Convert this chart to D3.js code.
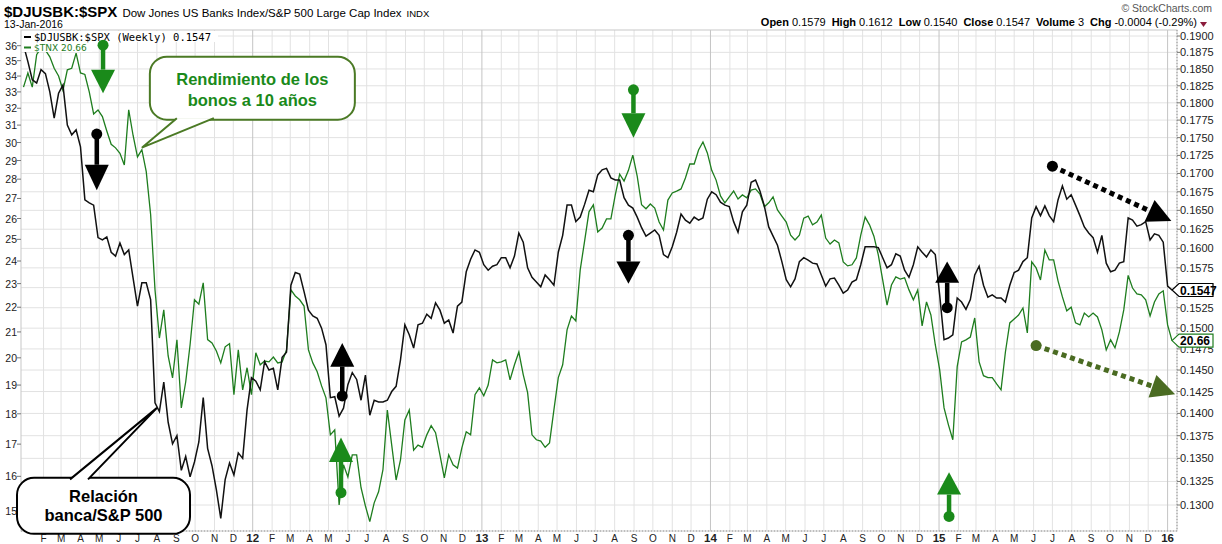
<!DOCTYPE html>
<html>
<head>
<meta charset="utf-8">
<script src="https://cdn.jsdelivr.net/npm/d3@7"></script>
<style>
body { margin: 0; background: #fff; }
text { font-family: "Liberation Sans", Arial, sans-serif; }
</style>
</head>
<body>
<script>
// weekly closes, first bar on 31-Dec-2010
var startDate = "2010-12-31";

// $DJUSBK:$SPX (right axis)
var ratio = [
  0.1886,0.1861,0.1834,0.1829,0.1849,0.1843,0.1816,0.1778,0.1814,0.1826,
  0.1768,0.1754,0.1761,0.1737,0.1664,0.1660,0.1657,0.1614,0.1611,0.1615,
  0.1595,0.1590,0.1607,0.1592,0.1598,0.1562,0.1527,0.1556,0.1556,0.1535,
  0.1412,0.1402,0.1436,0.1390,0.1366,0.1375,0.1337,0.1352,0.1330,0.1346,
  0.1368,0.1418,0.1361,0.1342,0.1316,0.1286,0.1327,0.1345,0.1332,0.1356,
  0.1350,0.1404,0.1441,0.1437,0.1427,0.1460,0.1450,0.1452,0.1427,0.1465,
  0.1471,0.1553,0.1569,0.1567,0.1545,0.1522,0.1515,0.1512,0.1500,0.1480,
  0.1418,0.1419,0.1397,0.1406,0.1433,0.1447,0.1439,0.1415,0.1444,0.1398,
  0.1415,0.1413,0.1413,0.1415,0.1425,0.1431,0.1462,0.1504,0.1492,0.1476,
  0.1504,0.1506,0.1517,0.1512,0.1531,0.1522,0.1506,0.1510,0.1494,0.1527,
  0.1532,0.1570,0.1586,0.1598,0.1595,0.1579,0.1572,0.1577,0.1579,0.1588,
  0.1588,0.1575,0.1590,0.1620,0.1608,0.1575,0.1563,0.1557,0.1551,0.1566,
  0.1560,0.1553,0.1595,0.1617,0.1657,0.1657,0.1635,0.1641,0.1658,0.1677,
  0.1675,0.1698,0.1705,0.1707,0.1694,0.1691,0.1691,0.1667,0.1657,0.1653,
  0.1641,0.1627,0.1616,0.1620,0.1624,0.1617,0.1592,0.1588,0.1602,0.1621,
  0.1645,0.1637,0.1633,0.1641,0.1637,0.1640,0.1665,0.1675,0.1671,0.1661,
  0.1657,0.1655,0.1635,0.1621,0.1648,0.1657,0.1688,0.1691,0.1676,0.1656,
  0.1628,0.1616,0.1604,0.1583,0.1560,0.1551,0.1561,0.1583,0.1588,0.1585,
  0.1581,0.1580,0.1566,0.1552,0.1561,0.1562,0.1553,0.1543,0.1547,0.1557,
  0.1560,0.1579,0.1602,0.1602,0.1602,0.1601,0.1588,0.1575,0.1579,0.1593,
  0.1590,0.1572,0.1563,0.1579,0.1602,0.1595,0.1589,0.1598,0.1592,0.1541,
  0.1486,0.1488,0.1492,0.1537,0.1532,0.1523,0.1535,0.1566,0.1577,0.1553,
  0.1538,0.1541,0.1537,0.1537,0.1532,0.1553,0.1569,0.1572,0.1583,0.1588,
  0.1640,0.1655,0.1643,0.1656,0.1643,0.1635,0.1664,0.1683,0.1665,0.1671,
  0.1657,0.1643,0.1628,0.1620,0.1614,0.1595,0.1617,0.1581,0.1570,0.1572,
  0.1581,0.1583,0.1640,0.1637,0.1629,0.1631,0.1635,0.1611,0.1619,0.1617,
  0.1608,0.1552,0.1547
];

// $TNX (left axis)
var tnx = [
  33.3,34.2,33.3,35.4,35.85,35.7,35.25,34.5,34.0,33.1,
  34.4,34.5,35.5,34.2,34.1,33.0,31.66,31.9,31.5,30.66,
  29.9,29.7,29.4,28.76,31.9,30.4,29.2,29.6,28.4,26.2,
  22.73,20.76,21.89,20.07,19.26,20.69,18.2,19.11,20.5,22.31,
  22.13,23.03,20.7,20.57,20.26,19.81,20.42,20.54,18.66,20.3,
  18.83,19.63,18.66,20.19,19.74,19.88,19.85,20.03,19.81,19.85,
  20.3,22.73,22.47,22.31,22.05,20.3,19.81,19.48,18.97,18.55,
  17.3,17.46,15.16,16.35,15.98,16.66,16.66,15.66,15.13,14.69,
  15.22,15.54,16.2,18.13,16.97,15.89,16.5,17.79,18.13,16.81,
  16.97,16.9,17.3,17.6,17.37,16.66,15.95,16.66,16.35,16.25,
  16.88,17.4,17.3,18.66,18.9,18.62,19.0,19.92,19.81,19.85,
  19.92,19.19,19.74,20.22,19.38,18.73,17.3,17.14,17.1,16.9,
  17.04,18.13,19.27,19.74,21.08,21.64,21.44,23.6,24.92,26.33,
  26.68,25.35,25.54,25.98,25.98,27.18,28.26,27.9,28.47,29.3,
  28.16,26.68,26.48,26.72,26.52,25.83,25.44,26.92,27.28,27.38,
  27.49,28.06,28.81,28.81,29.58,30.03,29.42,28.47,27.95,27.13,
  26.78,27.08,27.38,26.97,27.18,27.03,27.43,27.49,27.23,26.58,
  26.78,27.08,26.42,26.12,25.83,25.2,24.97,25.2,26.02,26.12,
  25.69,25.83,26.17,25.06,24.78,24.97,24.83,23.96,23.78,23.83,
  24.14,25.2,26.07,25.69,25.15,24.28,23.16,22.09,22.94,23.29,
  23.2,23.25,22.73,22.31,22.73,21.24,22.22,21.68,20.5,19.56,
  18.2,17.63,17.14,19.67,20.61,20.69,20.8,21.56,19.85,19.34,
  19.27,19.27,19.04,18.83,20.22,21.36,21.52,21.68,21.97,20.96,
  23.96,23.69,23.16,24.5,24.05,24.05,23.12,22.43,21.85,22.0,
  21.36,21.28,21.76,21.6,21.76,21.6,21.08,20.3,20.69,20.38,
  21.0,21.89,23.36,22.81,22.56,22.52,22.31,21.64,22.22,22.56,
  22.69,21.28,20.66
];

var rightTicks = [0.1300,0.1325,0.1350,0.1375,0.1400,0.1425,0.1450,0.1475,0.1500,
  0.1525,0.1550,0.1575,0.1600,0.1625,0.1650,0.1675,0.1700,0.1725,0.1750,0.1775,
  0.1800,0.1825,0.1850,0.1875,0.1900];
var leftTicks = [15,16,17,18,19,20,21,22,23,24,25,26,27,28,29,30,31,32,33,34,35,36];
var monthLabels = ["J","F","M","A","M","J","J","A","S","O","N","D"];

var headerStats = [["Open","0.1579"],["High","0.1612"],["Low","0.1540"],
  ["Close","0.1547"],["Volume","3"],["Chg","-0.0004 (-0.29%)"]];

// annotation arrows (date, right-axis values)
var upDown = [
  {date:"2011-05-07", from:0.1886, base:0.1849, tip:0.1814, color:"#1a8a1a"},
  {date:"2011-04-27", from:0.1755, base:0.1712, tip:0.1677, color:"#000"},
  {date:"2012-05-23", from:0.1420, base:0.1454, tip:0.1482, color:"#000"},
  {date:"2012-05-21", from:0.1313, base:0.1346, tip:0.1373, color:"#1a8a1a"},
  {date:"2013-08-23", from:0.1617, base:0.1583, tip:0.1555, color:"#000"},
  {date:"2013-08-31", from:0.1819, base:0.1785, tip:0.1750, color:"#1a8a1a"},
  {date:"2015-01-14", from:0.1525, base:0.1556, tip:0.1583, color:"#000"},
  {date:"2015-01-17", from:0.1288, base:0.1311, tip:0.1335, color:"#1a8a1a"}
];
var trends = [
  {d0:"2015-07-01", v0:0.1710, d1:"2016-01-07", v1:0.1636, color:"#000"},
  {d0:"2015-06-05", v0:0.1479, d1:"2016-01-13", v1:0.1422, color:"#4a6b22"}
];

var w = 1222, h = 544;
var pl = 21, pr = 1177, pt = 30, pb = 531;
var parse = d3.timeParse("%Y-%m-%d");
var start = parse(startDate);
var dates = ratio.map(function(d, i){ return d3.timeDay.offset(start, 7*i); });

var x = d3.scaleTime()
          .domain([new Date(2010,11,27), new Date(2016,0,16)])
          .range([pl, pr]);
var yR = d3.scaleLog().domain([0.13, 0.19]).range([505, 36]);
var yL = d3.scaleLog().domain([15, 36]).range([510.6, 45.7]);

var svg = d3.select("body").append("svg")
            .attr("width", w)
            .attr("height", h);

// header
var hd = svg.append("text").attr("x", 4).attr("y", 17);
hd.append("tspan").attr("font-weight", "bold").attr("font-size", 15).text("$DJUSBK:$SPX");
hd.append("tspan").attr("font-size", 11.5).attr("dx", 5).text("Dow Jones US Banks Index/S&P 500 Large Cap Index");
hd.append("tspan").attr("font-size", 9.5).attr("dx", 5).text("INDX");
svg.append("text").attr("x", 4).attr("y", 28).attr("font-size", 10.5).text("13-Jan-2016");
svg.append("text").attr("x", 1212).attr("y", 12).attr("text-anchor", "end")
   .attr("font-size", 10.5).attr("fill", "#555").text("\u00a9 StockCharts.com");

var st = svg.append("text").attr("x", 1197).attr("y", 26).attr("text-anchor", "end").attr("font-size", 11);
headerStats.forEach(function(s, i){
  st.append("tspan").attr("font-weight", "bold").attr("dx", i ? 6 : 0).text(s[0]);
  st.append("tspan").attr("dx", 3).text(s[1]);
});
svg.append("path").attr("d", "M1200,22L1207,22L1203.5,27Z").attr("fill", "#8b1c3c");

// grid
var grid = svg.append("g");
grid.selectAll(".hg").data(rightTicks).enter().append("line")
    .attr("x1", pl).attr("x2", pr)
    .attr("y1", function(d){ return yR(d); }).attr("y2", function(d){ return yR(d); })
    .attr("stroke", "#e2e2e2");

var months = d3.timeMonth.range(new Date(2011,1,1), new Date(2016,0,10));
grid.selectAll(".vg").data(months).enter().append("line")
    .attr("x1", function(d){ return x(d); }).attr("x2", function(d){ return x(d); })
    .attr("y1", pt).attr("y2", pb)
    .attr("stroke", function(d){ return d.getMonth() === 0 ? "#c4c4c4" : "#e2e2e2"; });

grid.append("rect").attr("x", pl).attr("y", pt).attr("width", pr - pl).attr("height", pb - pt)
    .attr("fill", "none").attr("stroke", "#c8c8c8");

// series
var lineR = d3.line().x(function(d, i){ return x(dates[i]); }).y(function(d){ return yR(d); });
var lineL = d3.line().x(function(d, i){ return x(dates[i]); }).y(function(d){ return yL(d); });

svg.append("path").datum(tnx).attr("d", lineL)
   .attr("fill", "none").attr("stroke", "#1e7d1e").attr("stroke-width", 1.3);
svg.append("path").datum(ratio).attr("d", lineR)
   .attr("fill", "none").attr("stroke", "#111").attr("stroke-width", 1.5);

// legend
svg.append("rect").attr("x", 22).attr("y", 31).attr("width", 196).attr("height", 11).attr("fill", "#fff");
svg.append("rect").attr("x", 22).attr("y", 42).attr("width", 70).attr("height", 10).attr("fill", "#fff");
svg.append("line").attr("x1", 24).attr("x2", 31).attr("y1", 37).attr("y2", 37).attr("stroke", "#000").attr("stroke-width", 2);
svg.append("text").attr("x", 34).attr("y", 40.5).style("font-family", "'DejaVu Sans Mono', monospace")
   .attr("font-size", 10.5).text("$DJUSBK:$SPX (Weekly) 0.1547");
svg.append("line").attr("x1", 24).attr("x2", 31).attr("y1", 47.5).attr("y2", 47.5).attr("stroke", "#1e7d1e").attr("stroke-width", 2);
svg.append("text").attr("x", 34).attr("y", 51).style("font-family", "'DejaVu Sans', sans-serif")
   .attr("font-size", 9).attr("fill", "#1e7d1e").text("$TNX 20.66");

// axes
var lastR = ratio[ratio.length - 1], lastL = tnx[tnx.length - 1];
var ax = svg.append("g").attr("font-size", 11).attr("fill", "#222");
ax.append("line").attr("x1", pr).attr("x2", pr).attr("y1", pt).attr("y2", pb)
  .attr("stroke", "#999").attr("stroke-dasharray", "1,2");
ax.selectAll(".rt").data(rightTicks).enter().append("line")
  .attr("x1", pr).attr("x2", pr + 3)
  .attr("y1", function(d){ return yR(d); }).attr("y2", function(d){ return yR(d); })
  .attr("stroke", "#777");
// labels hidden under the last-value tag are not shown
ax.selectAll(".rl").data(rightTicks.filter(function(d){ return Math.abs(yR(d) - yR(lastR)) > 8; }))
  .enter().append("text")
  .attr("x", pr + 3).attr("y", function(d){ return yR(d) + 4; })
  .text(d3.format(".4f"));

ax.selectAll(".lt").data(leftTicks).enter().append("line")
  .attr("x1", pl - 4).attr("x2", pl)
  .attr("y1", function(d){ return yL(d); }).attr("y2", function(d){ return yL(d); })
  .attr("stroke", "#777");
ax.selectAll(".ll").data(leftTicks).enter().append("text")
  .attr("x", pl - 4).attr("y", function(d){ return yL(d) + 4; })
  .attr("text-anchor", "end").attr("font-size", 10.5)
  .text(function(d){ return d; });

ax.append("line").attr("x1", pl).attr("x2", pr).attr("y1", pb).attr("y2", pb)
  .attr("stroke", "#999").attr("stroke-dasharray", "1,2");
ax.selectAll(".ml").data(months).enter().append("text")
  .attr("x", function(d){ return x(d); }).attr("y", 542)
  .attr("text-anchor", "middle")
  .attr("font-size", function(d){ return d.getMonth() === 0 ? 11.5 : 10; })
  .attr("font-weight", function(d){ return d.getMonth() === 0 ? "bold" : "normal"; })
  .text(function(d){ return d.getMonth() === 0 ? d3.timeFormat("%y")(d) : monthLabels[d.getMonth()]; });

// price tags
function tag(yv, label, stroke){
  var tx = pr - 5;
  svg.append("path")
     .attr("d", "M" + tx + "," + yv + "L" + (tx + 7) + "," + (yv - 6.5) + "L" + (tx + 41) + "," + (yv - 6.5) +
                "L" + (tx + 41) + "," + (yv + 6.5) + "L" + (tx + 7) + "," + (yv + 6.5) + "Z")
     .attr("fill", "#fff").attr("stroke", stroke).attr("stroke-width", 1.2);
  svg.append("text").attr("x", tx + 8).attr("y", yv + 4.5)
     .attr("font-weight", "bold").attr("font-size", 12).attr("fill", "#000").text(label);
}
tag(yR(lastR), d3.format(".4f")(lastR), "#000");
tag(yL(lastL), lastL, "#1e7d1e");

// callouts
function callout(ax0, ay0, box, tail, stroke, fill, lines){
  svg.append("rect").attr("x", ax0 + box[0]).attr("y", ay0 + box[1])
     .attr("width", box[2]).attr("height", box[3]).attr("rx", 17)
     .attr("fill", "#fff").attr("stroke", stroke).attr("stroke-width", 2);
  var by = tail[2] > 0 ? ay0 + box[1] + 1.5 : ay0 + box[1] + box[3] - 1.5;
  svg.append("path")
     .attr("d", "M" + (ax0 + tail[0]) + "," + by + "L" + ax0 + "," + ay0 + "L" + (ax0 + tail[1]) + "," + by)
     .attr("fill", "#fff").attr("stroke", stroke).attr("stroke-width", 2).attr("stroke-linejoin", "miter");
  lines.forEach(function(t, i){
    svg.append("text").attr("x", ax0 + box[0] + box[2] / 2).attr("y", ay0 + box[1] + t[1])
       .attr("text-anchor", "middle").attr("font-weight", "bold").attr("font-size", 16.5)
       .attr("fill", fill).text(t[0]);
  });
}
callout(x(dates[27]), yL(tnx[27]) - 2, [8, -91, 205, 63], [35, 72, -1], "#4b7a25", "#1a8a1a",
        [["Rendimiento de los", 28], ["bonos a 10 años", 49]]);
callout(x(dates[30]) + 2, yR(ratio[30]) + 5, [-140, 70, 173, 56], [-87, -69, 1], "#000", "#000",
        [["Relación", 24], ["banca/S&P 500", 43]]);

// vertical arrows
upDown.forEach(function(a){
  var cx = x(parse(a.date)), y0 = yR(a.from), yb = yR(a.base), yt = yR(a.tip);
  svg.append("line").attr("x1", cx).attr("x2", cx).attr("y1", y0).attr("y2", yb)
     .attr("stroke", a.color).attr("stroke-width", 4.5);
  svg.append("circle").attr("cx", cx).attr("cy", y0).attr("r", 5.5).attr("fill", a.color);
  svg.append("path").attr("d", "M" + (cx - 12) + "," + yb + "L" + (cx + 12) + "," + yb + "L" + cx + "," + yt + "Z")
     .attr("fill", a.color);
});

// dotted trend arrows
trends.forEach(function(t){
  var x0 = x(parse(t.d0)), y0 = yR(t.v0), x1 = x(parse(t.d1)), y1 = yR(t.v1);
  var len = Math.sqrt((x1 - x0) * (x1 - x0) + (y1 - y0) * (y1 - y0));
  var ux = (x1 - x0) / len, uy = (y1 - y0) / len;
  var bx = x1 - ux * 24, by = y1 - uy * 24;
  svg.append("line").attr("x1", x0).attr("y1", y0).attr("x2", bx).attr("y2", by)
     .attr("stroke", t.color).attr("stroke-width", 5).attr("stroke-dasharray", "5,4");
  svg.append("circle").attr("cx", x0).attr("cy", y0).attr("r", 5.5).attr("fill", t.color);
  svg.append("path")
     .attr("d", "M" + (bx - uy * 12) + "," + (by + ux * 12) + "L" + (bx + uy * 12) + "," + (by - ux * 12) +
                "L" + x1 + "," + y1 + "Z")
     .attr("fill", t.color);
});
</script>
</body>
</html>
